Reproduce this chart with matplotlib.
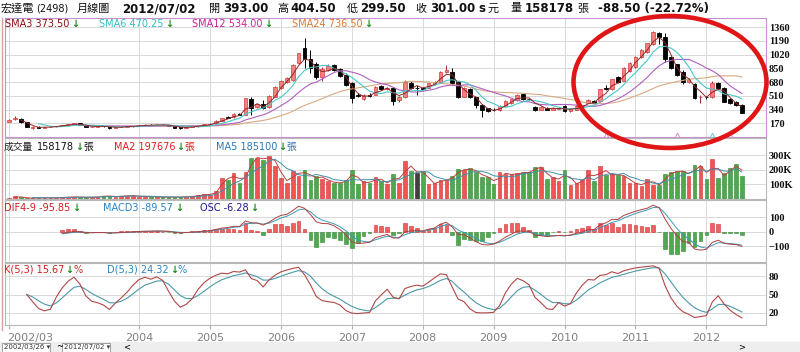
import numpy as np
import pandas as pd
import matplotlib
matplotlib.use('Agg')
import matplotlib.pyplot as plt
import matplotlib.patches as mpatches

W, H = 800, 352
FAM = ['DejaVu Sans', 'Noto Sans CJK TC']
CJK = ['Noto Sans CJK TC', 'DejaVu Sans']
SERIF = ['Liberation Serif', 'DejaVu Serif']

# monthly bars 2002/03 .. 2012/07
months = pd.period_range('2002-03', '2012-07', freq='M')

opens = [186, 228, 223, 182, 112, 128, 114, 122, 131, 135, 146, 155, 170, 148, 122, 130, 136, 134, 112, 126,
         128, 132, 136, 145, 150, 146, 154, 148, 140, 118, 112, 128, 134, 140, 152, 169, 198, 250, 244, 285,
         272, 467, 368, 409, 368, 500, 603, 686, 707, 914, 1099, 963, 905, 740, 831, 889, 840, 769, 666, 521,
         467, 520, 521, 632, 600, 604, 459, 492, 674, 612, 604, 612, 653, 686, 802, 810, 686, 500, 591, 492,
         397, 355, 340, 330, 384, 417, 459, 533, 470, 368, 335, 360, 338, 352, 384, 326, 335, 384, 426, 446,
         446, 608, 591, 740, 700, 823, 873, 988, 1058, 1153, 1285, 1244, 988, 900, 810, 686, 653, 495, 500, 492,
         666, 604, 470, 440, 393]
highs = [222, 262, 232, 186, 135, 132, 128, 134, 140, 152, 160, 175, 174, 150, 134, 140, 142, 136, 130, 134,
         136, 140, 148, 155, 156, 158, 158, 152, 142, 122, 132, 138, 142, 160, 170, 205, 240, 262, 292, 292,
         485, 490, 415, 459, 515, 635, 705, 740, 905, 1045, 1223, 1079, 934, 873, 900, 905, 860, 790, 680, 540,
         530, 540, 635, 650, 625, 615, 505, 705, 690, 645, 625, 675, 700, 820, 893, 852, 700, 615, 610, 500,
         410, 365, 360, 395, 455, 475, 530, 545, 480, 380, 380, 372, 368, 372, 395, 352, 395, 400, 470, 460,
         600, 640, 725, 760, 870, 925, 1005, 1090, 1170, 1310, 1300, 1293, 1000, 910, 830, 730, 665, 520, 510, 690,
         680, 615, 480, 450, 404.5]
lows = [180, 210, 178, 118, 105, 108, 110, 118, 126, 132, 142, 150, 145, 120, 118, 126, 128, 105, 108, 120,
        124, 128, 132, 140, 142, 144, 145, 138, 112, 105, 110, 125, 130, 138, 150, 165, 195, 232, 240, 268,
        268, 272, 355, 350, 360, 495, 598, 670, 700, 900, 852, 790, 720, 700, 820, 820, 740, 630, 426, 495,
        455, 500, 515, 580, 585, 397, 440, 480, 600, 521, 580, 605, 645, 680, 790, 650, 480, 490, 480, 355,
        252, 315, 318, 325, 378, 410, 450, 460, 455, 325, 330, 330, 332, 345, 310, 312, 330, 370, 420, 420,
        440, 585, 585, 670, 700, 810, 860, 975, 1045, 1140, 1150, 934, 840, 750, 660, 670, 470, 417, 470, 480,
        590, 430, 415, 385, 299.5]
closes = [215, 232, 182, 120, 128, 112, 125, 130, 135, 148, 157, 170, 148, 125, 130, 136, 132, 110, 126, 128,
          132, 136, 145, 150, 146, 154, 148, 142, 115, 110, 128, 134, 138, 155, 165, 198, 231, 240, 285, 273,
          479, 355, 405, 360, 508, 624, 698, 727, 893, 1037, 963, 852, 740, 840, 881, 831, 757, 645, 479, 508,
          521, 505, 624, 591, 604, 446, 492, 686, 612, 612, 600, 666, 686, 810, 831, 666, 492, 603, 492, 397,
          335, 326, 332, 384, 446, 467, 521, 467, 465, 335, 368, 340, 360, 358, 326, 347, 384, 392, 459, 426,
          591, 600, 715, 686, 860, 914, 996, 1079, 1161, 1306, 1244, 963, 860, 769, 686, 715, 479, 500, 495, 674,
          604, 438, 426, 395, 301]
# volume in thousands of lots
volumes = [7, 18, 11, 7, 6, 8, 8, 9, 9, 11, 14, 14, 13, 11, 12, 15, 23, 18, 16, 20,
           23, 23, 16, 16, 16, 14, 12, 14, 12, 14, 16, 18, 25, 32, 30, 53, 145, 133, 175, 106,
           182, 283, 283, 267, 297, 228, 145, 106, 191, 160, 200, 130, 160, 140, 120, 110, 110, 130, 200, 100,
           120, 110, 150, 120, 100, 170, 110, 260, 191, 179, 191, 101, 110, 129, 129, 159, 202, 198, 209, 182,
           152, 152, 101, 182, 168, 168, 175, 182, 182, 221, 216, 136, 152, 122, 198, 99, 110, 129, 198, 122,
           225, 163, 168, 163, 159, 110, 106, 90, 140, 94, 99, 168, 182, 191, 191, 156, 232, 225, 140, 274,
           145, 175, 210, 237.174, 158.178]

year_ticks = [0, 22, 34, 46, 58, 70, 82, 94, 106, 118]
year_labels = ['2002/03', '2004', '2005', '2006', '2007', '2008', '2009', '2010', '2011', '2012']
price_ticks = [170, 340, 510, 680, 850, 1020, 1190, 1360]
vol_ticks = [100, 200, 300]
macd_ticks = [-100, 0, 100]
kd_ticks = [20, 50, 80]

df = pd.DataFrame({'o': opens, 'h': highs, 'l': lows, 'c': closes, 'v': volumes})
x = np.arange(len(df))

# indicators
sma = {n: df['c'].rolling(n).mean() for n in (3, 6, 12, 24)}
vma2 = df['v'].rolling(2).mean()
vma5 = df['v'].rolling(5).mean()
dif = df['c'].ewm(span=4, adjust=False).mean() - df['c'].ewm(span=9, adjust=False).mean()
macd = dif.ewm(span=3, adjust=False).mean()
osc = dif - macd
ll = df['l'].rolling(5, min_periods=1).min()
hh = df['h'].rolling(5, min_periods=1).max()
rsv = (df['c'] - ll) / (hh - ll) * 100
k = np.full(len(df), np.nan)
d = np.full(len(df), np.nan)
k[3] = d[3] = 50.0
for i in range(4, len(df)):
    k[i] = k[i - 1] * 2 / 3 + rsv[i] / 3
    d[i] = d[i - 1] * 2 / 3 + k[i] / 3

fig = plt.figure(figsize=(W / 100, H / 100), dpi=100)
fig.patch.set_facecolor('white')

XL = (-4 / 5.91, 757 / 5.91)


def panel(top, bottom, edge='#b8b8b8'):
    ax = fig.add_axes([5 / W, 1 - bottom / H, 761 / W, (bottom - top) / H])
    ax.set_xlim(*XL)
    for s in ax.spines.values():
        s.set_color(edge)
        s.set_linewidth(0.8)
    ax.set_xticks(year_ticks)
    ax.tick_params(axis='x', length=0, labelbottom=False)
    ax.yaxis.tick_right()
    ax.tick_params(axis='y', length=0, pad=2)
    ax.grid(True, color='#d9d9d9', lw=0.7)
    ax.set_axisbelow(True)
    return ax


def style_ylabels(ax):
    for lab in ax.get_yticklabels():
        lab.set_fontfamily(SERIF)
        lab.set_fontweight('bold')
        lab.set_fontsize(7.5)
        lab.set_color('#111111')


# price panel
ax1 = panel(18, 137, edge='#c890d0')
ax1.set_ylim(0, 1475)
ax1.set_yticks(price_ticks)
style_ylabels(ax1)
up = df['c'] > df['o']
body_lo = np.minimum(df['o'], df['c'])
body_h = np.abs(df['c'] - df['o'])
wick_col = np.where(up, '#9a3030', 'black')
ax1.vlines(x, df['l'], df['h'], colors=wick_col, lw=0.7, zorder=2)
ax1.bar(x[up], body_h[up], 0.62, bottom=body_lo[up], color='#f48080', edgecolor='#d83a3a', lw=0.5, zorder=3)
ax1.bar(x[~up], body_h[~up], 0.62, bottom=body_lo[~up], color='black', edgecolor='black', lw=0.6, zorder=3)
ax1.plot(x, sma[24], color='#d8aa80', lw=0.8, zorder=4)
ax1.plot(x, sma[12], color='#b060c0', lw=0.8, zorder=4)
ax1.plot(x, sma[6], color='#48c8c8', lw=0.8, zorder=4)
ax1.plot(x, sma[3], color='#8b2a2a', lw=0.7, zorder=4)
mk_x = [101, 113, 119, 122]
mk_c = ['#d890d0', '#d890d0', '#60d0d0', '#d890d0']
for mx, mc in zip(mk_x, mk_c):
    ax1.plot(mx, 25, marker='^', ms=3.5, mfc='none', mec=mc, mew=0.7, zorder=5)

# volume panel
ax2 = panel(138, 199)
ax2.set_ylim(0, 417)
ax2.set_yticks(vol_ticks)
ax2.set_yticklabels([f'{t}K' for t in vol_ticks])
style_ylabels(ax2)
vcol = np.where(df['c'] > df['o'], '#f05555', np.where(df['c'] < df['o'], '#4fa84f', '#404040'))
vedge = np.where(df['c'] > df['o'], '#d03030', np.where(df['c'] < df['o'], '#2f882f', '#202020'))
ax2.bar(x, df['v'], 0.62, color=vcol, edgecolor=vedge, lw=0.4, zorder=3)
ax2.plot(x[1:], vma2[1:], color='#c04040', lw=0.7, zorder=4)
ax2.plot(x[4:], vma5[4:], color='#4090a8', lw=0.7, zorder=4)

# MACD panel (OSC histogram drawn at 3x like the source terminal)
ax3 = panel(200, 262)
ax3.set_ylim(-209, 219)
ax3.set_yticks(macd_ticks)
style_ylabels(ax3)
s = slice(9, None)
ocol = np.where(osc > 0, '#f06060', '#50a850')
oedge = np.where(osc > 0, '#d03030', '#2f882f')
ax3.bar(x[s], 3 * osc[s], 0.62, color=ocol[s], edgecolor=oedge[s], lw=0.4, zorder=3)
ax3.plot(x[s], macd[s], color='#3a9ab8', lw=0.7, zorder=4)
ax3.plot(x[s], dif[s], color='#b04040', lw=0.7, zorder=4)

# KD panel
ax4 = panel(263, 325)
ax4.set_ylim(0, 101.7)
ax4.set_yticks(kd_ticks)
style_ylabels(ax4)
ax4.plot(x[3:], d[3:], color='#4a9aa8', lw=0.8)
ax4.plot(x[3:], k[3:], color='#b04848', lw=0.8)
ax4.tick_params(axis='x', length=3, color='#b0b0b0', direction='out')
for xi, lab in zip(year_ticks, year_labels):
    px = 9 + 5.91 * xi
    if xi == 0:
        fig.text(7 / W, 1 - 338 / H, lab, ha='left', va='center', fontsize=8, color='#808080', family=FAM)
    else:
        fig.text(px / W, 1 - 338 / H, lab, ha='center', va='center', fontsize=8, color='#808080', family=FAM)

renderer = fig.canvas.get_renderer()


def chain(x0, y, parts, size=7):
    xp = x0
    for txt, col, wt, gap in parts:
        t = fig.text(xp / W, 1 - y / H, txt, color=col, fontsize=size, fontweight=wt,
                     ha='left', va='center', family=FAM, zorder=12)
        bb = t.get_window_extent(renderer)
        xp = bb.x1 + gap
    return xp


ARW = '#1a8a1a'
# title: (x px, text, weight, size, family)
title_parts = [
    (1, '宏達電', 'normal', 8, CJK), (36, '(2498)', 'normal', 7, FAM), (77, '月線圖', 'normal', 8, CJK),
    (122, '2012/07/02', 'bold', 8.5, FAM),
    (209, '開', 'normal', 8, CJK), (223, '393.00', 'bold', 8.5, FAM), (277, '高', 'normal', 8, CJK),
    (290, '404.50', 'bold', 8.5, FAM), (347, '低', 'normal', 8, CJK), (360, '299.50', 'bold', 8.5, FAM),
    (415, '收', 'normal', 8, CJK), (430, '301.00', 'bold', 8.5, FAM), (478, 's', 'bold', 8.5, FAM),
    (488, '元', 'normal', 8, CJK), (510, '量', 'normal', 8, CJK), (525, '158178', 'bold', 8.5, FAM),
    (577, '張', 'normal', 8, CJK), (598, '-88.50 (-22.72%)', 'bold', 8.5, FAM),
]
for px, txt, wt, sz, fam in title_parts:
    fig.text(px / W, 1 - 8.5 / H, txt, fontsize=sz, fontweight=wt, ha='left', va='center',
             family=fam, color='#111111', zorder=12)

# price legend
chain(5, 24, [('SMA3 373.50', '#8b1010', 'normal', 1.5), ('↓', ARW, 'bold', 0)])
chain(99, 24, [('SMA6 470.25', '#30c0c8', 'normal', 1.5), ('↓', ARW, 'bold', 0)])
chain(192, 24, [('SMA12 534.00', '#d0209a', 'normal', 1.5), ('↓', ARW, 'bold', 0)])
chain(292, 24, [('SMA24 736.50', '#e07830', 'normal', 1.5), ('↓', ARW, 'bold', 0)])
# volume legend
chain(4, 146.5, [('成交量', '#222222', 'normal', 4), ('158178', '#111111', 'normal', 1),
                 ('↓', ARW, 'bold', 0), ('張', '#111111', 'normal', 0)])
chain(114, 146.5, [('MA2 197676', '#e02020', 'normal', 1), ('↓', ARW, 'bold', 0), ('張', '#e02020', 'normal', 0)])
chain(216, 146.5, [('MA5 185100', '#2a78b8', 'normal', 1), ('↓', ARW, 'bold', 0), ('張', '#2a78b8', 'normal', 0)])
# macd legend
chain(4, 208, [('DIF4-9 -95.85', '#d02020', 'normal', 2), ('↓', ARW, 'bold', 0)])
chain(103, 208, [('MACD3 -89.57', '#2a84c0', 'normal', 2), ('↓', ARW, 'bold', 0)])
chain(200, 208, [('OSC -6.28', '#1a1a90', 'normal', 2), ('↓', ARW, 'bold', 0)])
# kd legend
chain(4, 270, [('K(5,3) 15.67', '#d02020', 'normal', 1), ('↓', ARW, 'bold', 0), ('%', '#d02020', 'normal', 0)])
chain(107, 270, [('D(5,3) 24.32', '#2a84c0', 'normal', 1), ('↓', ARW, 'bold', 0), ('%', '#2a84c0', 'normal', 0)])

# left edge line
fig.add_artist(plt.Line2D([2 / W, 2 / W], [1 - 18 / H, 1 - 330 / H], color='#d8a0a0', lw=1))

# bottom strip with date pickers
fig.add_artist(mpatches.Rectangle((0, 0), 1, 10 / H, transform=fig.transFigure, color='#eeeeee', zorder=0))
for bx, txt in ((2, '2002/03/26'), (62, '2012/07/02')):
    fig.add_artist(mpatches.Rectangle((bx / W, 0.5 / H), 48 / W, 9 / H, transform=fig.transFigure,
                                      facecolor='white', edgecolor='#909090', lw=0.6))
    fig.text((bx + 2) / W, 5 / H, txt + ' ▾', fontsize=5, ha='left', va='center', family=FAM, color='#333333')
fig.text(56 / W, 5 / H, '~', fontsize=6, ha='left', va='center', family=FAM)
fig.text(123 / W, 5 / H, '<', fontsize=6, ha='left', va='center', family=FAM)
fig.text(738 / W, 5 / H, '>', fontsize=6, ha='left', va='center', family=FAM)

# red highlight ellipse
fig.add_artist(mpatches.Ellipse((670 / W, 1 - 82 / H), 193 / W, 132 / H, transform=fig.transFigure,
                                fill=False, edgecolor='#e01515', lw=3.3, zorder=10))

fig.savefig('out.png', dpi=100)
